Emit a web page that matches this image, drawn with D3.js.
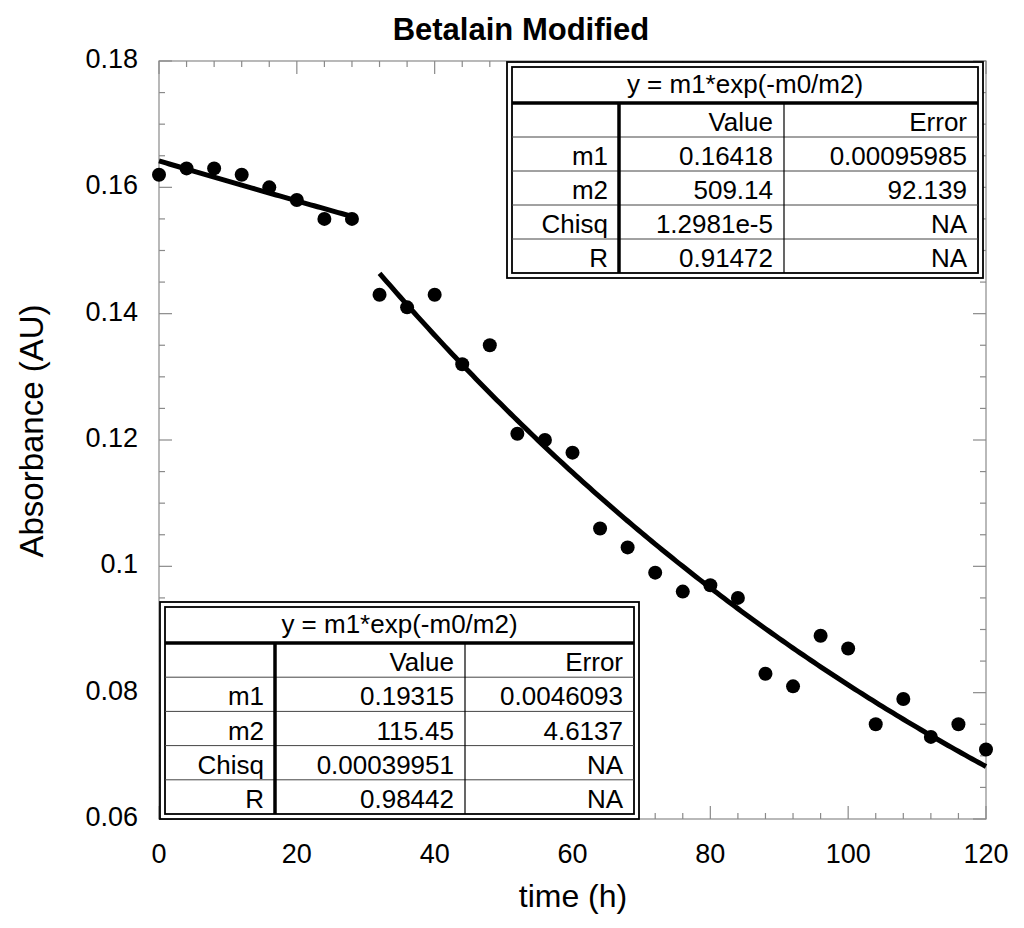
<!DOCTYPE html>
<html>
<head>
<meta charset="utf-8">
<script src="https://cdn.jsdelivr.net/npm/d3@7"></script>
<style>
  html, body { margin: 0; padding: 0; background: #fff; }
  svg { display: block; font-family: "Liberation Sans", Arial, Helvetica, sans-serif; }
</style>
</head>
<body>
<svg id="chart" width="1024" height="928"></svg>
<script>
// ---------- data ----------
const title = "Betalain Modified";
const xLabel = "time (h)";
const yLabel = "Absorbance (AU)";

const timeH = [0,4,8,12,16,20,24,28,32,36,40,44,48,52,56,60,64,68,72,76,80,84,88,92,96,100,104,108,112,116,120];
const absorbance = [0.162,0.163,0.163,0.162,0.160,0.158,0.155,0.155,
  0.143,0.141,0.143,0.132,0.135,0.121,0.120,0.118,0.106,0.103,0.099,0.096,0.097,0.095,
  0.083,0.081,0.089,0.087,0.075,0.079,0.073,0.075,0.071];

const xTicks = [0,20,40,60,80,100,120];
const yTicks = [0.06,0.08,0.10,0.12,0.14,0.16,0.18];
const yTickLabels = ["0.06","0.08","0.1","0.12","0.14","0.16","0.18"];

// fit parameters  y = m1*exp(-x/m2)
const fit1Range = [0, 28];
const fit1Params = [0.16418, 509.14];
const fit2Range = [32, 120];
const fit2Params = [0.19315, 115.45];

const fitEquation = "y = m1*exp(-m0/m2)";
const tableHeader = ["", "Value", "Error"];
const table1Rows = [["m1","0.16418","0.00095985"],["m2","509.14","92.139"],["Chisq","1.2981e-5","NA"],["R","0.91472","NA"]];
const table2Rows = [["m1","0.19315","0.0046093"],["m2","115.45","4.6137"],["Chisq","0.00039951","NA"],["R","0.98442","NA"]];

// ---------- layout ----------
const svg = d3.select("#chart");
const L = 159, R = 986, T = 61, B = 819;
const x = d3.scaleLinear().domain([0,120]).range([L,R]);
const y = d3.scaleLinear().domain([0.06,0.18]).range([B,T]);
const frameColor = "#8a8a8a";

// axes (ticks inward on all four sides)
const minorX = d3.range(0, 121, 4);
const minorY = d3.range(0, 25).map(i => 0.06 + i*0.005);
function isMajorX(v){ return Math.abs(v/20 - Math.round(v/20)) < 1e-6; }
function isMajorY(v){ return Math.abs((v-0.06)/0.02 - Math.round((v-0.06)/0.02)) < 1e-6; }

const gAxes = svg.append("g").attr("stroke", frameColor).attr("stroke-width", 1.2);
gAxes.append("rect").attr("x", L).attr("y", T).attr("width", R-L).attr("height", B-T).attr("fill","none");

minorX.forEach(v => {
  const len = isMajorX(v) ? 13 : 6;
  gAxes.append("line").attr("x1", x(v)).attr("x2", x(v)).attr("y1", B).attr("y2", B-len);
  gAxes.append("line").attr("x1", x(v)).attr("x2", x(v)).attr("y1", T).attr("y2", T+len);
});
minorY.forEach(v => {
  const len = isMajorY(v) ? 13 : 6;
  gAxes.append("line").attr("y1", y(v)).attr("y2", y(v)).attr("x1", L).attr("x2", L+len);
  gAxes.append("line").attr("y1", y(v)).attr("y2", y(v)).attr("x1", R).attr("x2", R-len);
});

// tick labels
svg.append("g").selectAll("text").data(yTicks).join("text")
  .attr("x", L-21).attr("y", d => y(d)+7)
  .attr("text-anchor","end").attr("font-size", 27).attr("fill","#000")
  .text((d,i) => yTickLabels[i]);
svg.append("g").selectAll("text").data(xTicks).join("text")
  .attr("x", d => x(d)).attr("y", 863)
  .attr("text-anchor","middle").attr("font-size", 27).attr("fill","#000")
  .text(d => d);

// axis titles
svg.append("text").attr("x", 573).attr("y", 907).attr("text-anchor","middle")
  .attr("font-size", 32).text(xLabel);
svg.append("text").attr("transform","translate(43,431) rotate(-90)").attr("text-anchor","middle")
  .attr("font-size", 33).text(yLabel);
svg.append("text").attr("x", 521).attr("y", 40).attr("text-anchor","middle")
  .attr("font-size", 31).attr("font-weight","bold").text(title);

// fit curves
function fitCurve(range, p){
  const pts = [];
  for (let t = range[0]; t <= range[1] + 1e-9; t += 0.5) pts.push([t, p[0]*Math.exp(-t/p[1])]);
  return pts;
}
const line = d3.line().x(d => x(d[0])).y(d => y(d[1]));
[[fit1Range, fit1Params],[fit2Range, fit2Params]].forEach(([r,p]) => {
  svg.append("path").attr("d", line(fitCurve(r,p))).attr("fill","none")
    .attr("stroke","#000").attr("stroke-width", 5);
});

// data points
svg.append("g").selectAll("circle").data(timeH).join("circle")
  .attr("cx", d => x(d)).attr("cy", (d,i) => y(absorbance[i])).attr("r", 7).attr("fill","#000");

// tables
function drawTable(x0, y0, w, h, colX, rows){
  const g = svg.append("g");
  g.append("rect").attr("x", x0).attr("y", y0).attr("width", w).attr("height", h)
    .attr("fill","#fff").attr("stroke","#000").attr("stroke-width", 1.8);
  const ix0 = x0+5, iy0 = y0+5, ix1 = x0+w-5, iy1 = y0+h-5;
  g.append("rect").attr("x", ix0).attr("y", iy0).attr("width", ix1-ix0).attr("height", iy1-iy0)
    .attr("fill","none").attr("stroke","#000").attr("stroke-width", 1.8);
  const titleBottom = y0 + 41;
  const rowH = (iy1 - titleBottom)/5;
  g.append("line").attr("x1", ix0).attr("x2", ix1).attr("y1", titleBottom).attr("y2", titleBottom)
    .attr("stroke","#000").attr("stroke-width", 3.5);
  for (let i = 1; i < 5; i++) {
    const yy = titleBottom + i*rowH;
    g.append("line").attr("x1", ix0).attr("x2", ix1).attr("y1", yy).attr("y2", yy)
      .attr("stroke","#444").attr("stroke-width", 1);
  }
  g.append("line").attr("x1", colX[0]).attr("x2", colX[0]).attr("y1", titleBottom).attr("y2", iy1)
    .attr("stroke","#000").attr("stroke-width", 3.5);
  g.append("line").attr("x1", colX[1]).attr("x2", colX[1]).attr("y1", titleBottom).attr("y2", iy1)
    .attr("stroke","#000").attr("stroke-width", 1.2);
  g.append("text").attr("x", (ix0+ix1)/2).attr("y", titleBottom - 10).attr("text-anchor","middle")
    .attr("font-size", 26).text(fitEquation);
  const rights = [colX[0]-11, colX[1]-11, ix1-11];
  const allRows = [tableHeader].concat(rows);
  allRows.forEach((r, i) => {
    const base = titleBottom + (i+1)*rowH - 6;
    r.forEach((c, j) => {
      g.append("text").attr("x", rights[j]).attr("y", base).attr("text-anchor","end")
        .attr("font-size", 26).text(c);
    });
  });
}
drawTable(507, 62, 476, 216, [619, 784], table1Rows);
drawTable(160, 602, 479, 217, [275, 465], table2Rows);
</script>
</body>
</html>
